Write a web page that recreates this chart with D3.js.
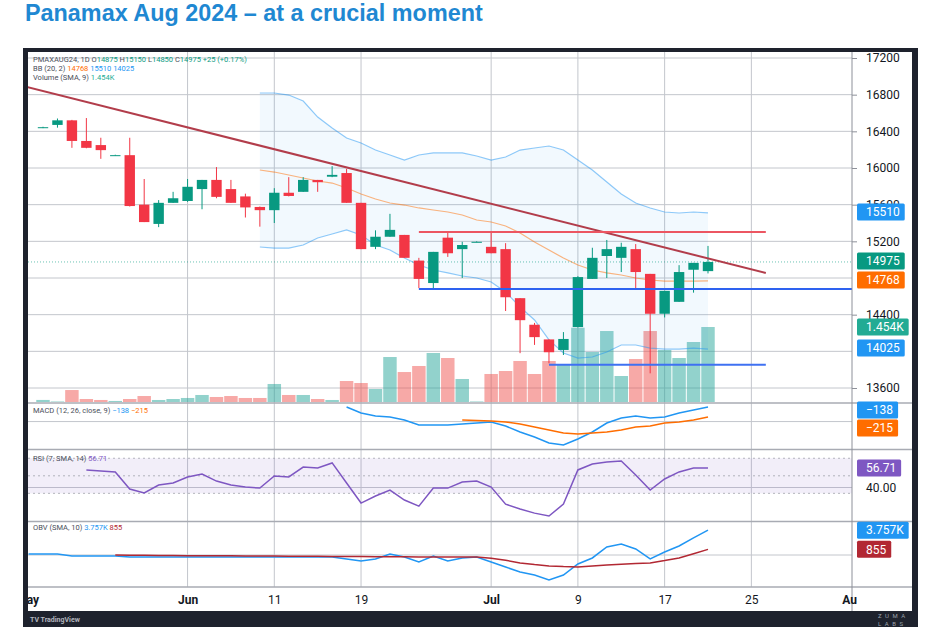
<!DOCTYPE html>
<html>
  <head>
    <meta charset="utf-8">
    <title>Panamax Aug 2024</title>
    <style>
      body { margin: 0; background: #fff; }
      svg { display: block; font-family: Roboto, "Liberation Sans", sans-serif; }
    </style>
  </head>
  <body>
    <script src="https://cdn.jsdelivr.net/npm/d3@7"></script>
    <script>
      // ---- data (bar index 0 = first candle) ----
      var opens  = [16440, 16470, 16520, 16295, 16250, 16140, 16140, 15600, 15390, 15620,
                    15640, 15770, 15870, 15770, 15690, 15575, 15540, 15730, 15740, 15870,
                    15905, 15945, 15620, 15140, 15250, 15270, 14990, 14745, 15240, 15115,
                    15195, 15140, 15115, 14580, 14290, 14130, 14015, 14265, 14790, 15040,
                    15020, 15115, 14845, 14410, 14540, 14890, 14875];
      var highs  = [16450, 16540, 16525, 16545, 16330, 16145, 16330, 15880, 15650, 15740,
                    15880, 15870, 16010, 15870, 15720, 15580, 15780, 15900, 15900, 15870,
                    16020, 15990, 15620, 15320, 15500, 15270, 15020, 15085, 15310, 15195,
                    15200, 15300, 15180, 14580, 14310, 14130, 14210, 14820, 15130, 15215,
                    15185, 15170, 14845, 14660, 14940, 14965, 15150];
      var lows   = [16435, 16440, 16220, 16215, 16100, 16135, 15580, 15410, 15355, 15620,
                    15630, 15550, 15670, 15620, 15460, 15360, 15400, 15690, 15740, 15740,
                    15900, 15620, 15115, 15115, 15250, 15020, 14690, 14690, 15030, 14800,
                    15190, 15070, 14440, 13980, 14070, 13870, 13960, 14260, 14790, 14800,
                    14865, 14690, 13760, 14370, 14540, 14640, 14850];
      var closes = [16445, 16520, 16295, 16220, 16195, 16140, 15585, 15410, 15620, 15670,
                    15795, 15870, 15685, 15620, 15570, 15540, 15730, 15695, 15870, 15845,
                    15925, 15620, 15115, 15250, 15325, 15020, 14790, 15085, 15070, 15160,
                    15195, 15070, 14590, 14340, 14155, 13990, 14135, 14810, 15020, 15115,
                    15140, 14865, 14410, 14660, 14865, 14965, 14975];
      var volumes = [40, 10, 232, 58, 39, 20, 58, 116, 39, 58,
                     78, 136, 97, 116, 78, 78, 349, 136, 136, 58,
                     39, 407, 368, 252, 872, 581, 698, 950, 853, 446,
                     10, 543, 601, 795, 543, 795, 720, 1440, 969, 1376,
                     504, 833, 1376, 1008, 853, 1163, 1454];

      var bbStart = 15;
      var bbUpper = [16818, 16818, 16796, 16731, 16556, 16436, 16327, 16273, 16196, 16142,
                     16087, 16142, 16164, 16164, 16164, 16131, 16087, 16120, 16196, 16218,
                     16240, 16196, 16087, 15978, 15847, 15716, 15618, 15564, 15520, 15509,
                     15520, 15510];
      var bbBasis = [15978, 15956, 15924, 15891, 15858, 15836, 15782, 15716, 15662, 15618,
                     15596, 15564, 15542, 15520, 15487, 15433, 15411, 15367, 15291, 15193,
                     15105, 15018, 14942, 14887, 14855, 14833, 14800, 14778, 14767, 14767,
                     14767, 14768];
      var bbLower = [15138, 15127, 15127, 15160, 15236, 15280, 15324, 15269, 15160, 15105,
                     15018, 14942, 14887, 14855, 14822, 14800, 14756, 14647, 14484, 14342,
                     14124, 13982, 13927, 13938, 13993, 14069, 14069, 14036, 14025, 14025,
                     14036, 14025];

      var macdStart = 21;
      var macdLine = [-138, -184, -207, -215, -238, -276, -276, -276, -269, -261,
                      -253, -284, -330, -369, -415, -430, -384, -330, -261, -223,
                      -207, -223, -215, -184, -161, -138];
      var signalStart = 29;
      var signalLine = [-238, -242, -246, -253, -269, -292, -315, -338, -346, -338,
                        -330, -315, -292, -284, -261, -253, -238, -215];

      var rsiStart = 3;
      var rsiLine = [55.0, 54.1, 53.3, 38.7, 35.3, 42.1, 43.8, 49.0, 51.5, 45.5,
                     42.1, 40.4, 39.5, 49.8, 49.0, 57.5, 56.7, 61.0, 43.8, 26.7,
                     32.7, 37.8, 29.3, 24.1, 39.5, 39.5, 44.7, 45.5, 40.4, 25.8,
                     21.6, 18.1, 15.6, 25.8, 55.0, 60.1, 61.8, 62.7, 50.7, 37.8,
                     47.3, 53.3, 56.7, 56.71];
      var rsiLevels = [65, 50, 35];

      var obvStart = -1;
      var obvLine = [150, 150, 150, -150, -150, -150, -150, -300, -300, -300,
                     -300, -300, -300, -300, -300, -300, -300, -300, -300, -300,
                     -300, -300, -600, -910, -600, 150, -300, -1060, -150, -910,
                     -450, -300, -1060, -1820, -2580, -3030, -3790, -3030, -1360, -450,
                     1210, 1670, 910, -600, 450, 1360, 2580, 3757];
      var obvSmaStart = 5;
      var obvSma = [0, -20, -40, -60, -80, -100, -110, -120, -130, -150,
                    -160, -170, -180, -190, -200, -210, -220, -230, -250, -260,
                    -280, -290, -300, -300, -300, -300, -500, -800, -1200, -1450,
                    -1650, -1750, -1800, -1650, -1500, -1400, -1300, -1200, -850, -450,
                    200, 855];

      // drawn annotations: [bar index, price]
      var trendLine   = [[-1.1, 16884], [50, 14855]];
      var resistLine  = [[26, 15302], [50, 15302]];
      var supportLine = [[26, 14680], [56.5, 14680]];
      var lowLine     = [[35, 13855], [50, 13855]];

      var priceTicks = [17200, 16800, 16400, 16000, 15600, 15200, 14800, 14400, 14000, 13600];
      var timeTicks  = [-1.1, 10, 16, 22, 31, 37, 43, 49, 56];
      var timeLabels = ['May', 'Jun', '11', '19', 'Jul', '9', '17', '25', 'Aug'];

      // ---- layout ----
      var width = 940, height = 627;
      var plotL = 28, plotR = 852, axisR = 912;
      var mainTop = 52, mainBot = 403, macdBot = 449.5, rsiBot = 521.5, obvBot = 587, frameBot = 611;

      var upColor = '#089981', downColor = '#f23645';

      var svg = d3.select('body').append('svg')
        .attr('width', width)
        .attr('height', height);

      // title
      var title = svg.append('text')
        .attr('x', 25)
        .attr('y', 21)
        .attr('fill', '#1f88d2')
        .attr('font-family', '"Liberation Sans", Arial, sans-serif')
        .attr('font-weight', 'bold')
        .attr('font-size', 22)
        .text('Panamax Aug 2024 \u2013 at a crucial moment');
      var tl = title.node().getComputedTextLength();
      title.attr('font-size', 22 * 458 / tl);

      // dark frame
      svg.append('rect').attr('x', 23).attr('y', 48).attr('width', 895).attr('height', 579).attr('fill', '#1e222d');
      svg.append('rect').attr('x', plotL).attr('y', mainTop).attr('width', axisR - plotL).attr('height', frameBot - mainTop).attr('fill', '#fff');

      var defs = svg.append('defs');
      function clip(id, x0, x1, y0, y1) {
        defs.append('clipPath').attr('id', id).append('rect')
          .attr('x', x0).attr('y', y0).attr('width', x1 - x0).attr('height', y1 - y0);
        return 'url(#' + id + ')';
      }

      var x = d3.scaleLinear().domain([0, 46]).range([43, 708]);
      var step = x(1) - x(0);
      var yPrice = d3.scaleLinear().domain([17200, 13600]).range([58, 388]);
      var yVol = d3.scaleLinear().domain([0, 1454]).range([mainBot - 1, 327]);
      var yMacd = d3.scaleLinear().domain([-138, -430]).range([407, 445]);
      var yRsi = d3.scaleLinear().domain([50, 40]).range([475.8, 487.5]);
      var yObv = d3.scaleLinear().domain([0, 3757]).range([555, 530.2]);

      var gridColor = '#c3c6cc';

      // vertical grid
      svg.append('g').selectAll('line').data(timeTicks.slice(1, -1)).enter().append('line')
        .attr('x1', function(d) { return x(d); }).attr('x2', function(d) { return x(d); })
        .attr('y1', mainTop).attr('y2', obvBot)
        .attr('stroke', gridColor);

      // horizontal grid
      function hgrid(vals, scale) {
        svg.append('g').selectAll('line').data(vals).enter().append('line')
          .attr('x1', plotL).attr('x2', plotR)
          .attr('y1', function(d) { return scale(d); }).attr('y2', function(d) { return scale(d); })
          .attr('stroke', gridColor);
      }
      hgrid(priceTicks, yPrice);
      hgrid([-250], yMacd);
      hgrid([40], yRsi);
      hgrid([0], yObv);

      // ---- main pane ----
      var main = svg.append('g').attr('clip-path', clip('clipMain', plotL, plotR, mainTop, mainBot));

      // volume
      main.selectAll('.vol').data(volumes).enter().append('rect')
        .attr('class', 'vol')
        .attr('x', function(d, i) { return x(i) - step / 2 + 0.5; })
        .attr('width', step - 1)
        .attr('y', function(d) { return yVol(d); })
        .attr('height', function(d) { return yVol(0) - yVol(d); })
        .attr('fill', function(d, i) { return closes[i] >= opens[i] ? 'rgba(38,166,154,0.5)' : 'rgba(239,83,80,0.5)'; });

      // bollinger bands
      var bbArea = d3.area()
        .x(function(d, i) { return x(bbStart + i); })
        .y0(function(d, i) { return yPrice(bbLower[i]); })
        .y1(function(d) { return yPrice(d); });
      main.append('path').datum(bbUpper).attr('d', bbArea).attr('fill', 'rgba(33,150,243,0.06)');
      function lineFrom(start, scale) {
        return d3.line().x(function(d, i) { return x(start + i); }).y(function(d) { return scale(d); });
      }
      main.append('path').datum(bbUpper).attr('d', lineFrom(bbStart, yPrice))
        .attr('fill', 'none').attr('stroke', '#2196f3').attr('stroke-opacity', 0.5).attr('stroke-width', 1.2);
      main.append('path').datum(bbLower).attr('d', lineFrom(bbStart, yPrice))
        .attr('fill', 'none').attr('stroke', '#2196f3').attr('stroke-opacity', 0.5).attr('stroke-width', 1.2);
      main.append('path').datum(bbBasis).attr('d', lineFrom(bbStart, yPrice))
        .attr('fill', 'none').attr('stroke', '#ff6d00').attr('stroke-opacity', 0.5).attr('stroke-width', 1.2);

      // last price line
      main.append('line')
        .attr('x1', plotL).attr('x2', plotR)
        .attr('y1', yPrice(closes[closes.length - 1])).attr('y2', yPrice(closes[closes.length - 1]))
        .attr('stroke', upColor).attr('stroke-opacity', 0.6).attr('stroke-dasharray', '1,2');

      // candles
      var bw = step * 0.72;
      var candle = main.selectAll('.candle').data(closes).enter().append('g').attr('class', 'candle');
      candle.append('line')
        .attr('x1', function(d, i) { return x(i); }).attr('x2', function(d, i) { return x(i); })
        .attr('y1', function(d, i) { return yPrice(highs[i]); })
        .attr('y2', function(d, i) { return yPrice(lows[i]); })
        .attr('stroke', function(d, i) { return d >= opens[i] ? upColor : downColor; })
        .attr('stroke-width', 1);
      candle.append('rect')
        .attr('x', function(d, i) { return x(i) - bw / 2; })
        .attr('width', bw)
        .attr('y', function(d, i) { return yPrice(Math.max(d, opens[i])); })
        .attr('height', function(d, i) { return Math.max(1, Math.abs(yPrice(d) - yPrice(opens[i]))); })
        .attr('fill', function(d, i) { return d >= opens[i] ? upColor : downColor; });

      // annotations
      function seg(pts, color, w) {
        main.append('line')
          .attr('x1', x(pts[0][0])).attr('y1', yPrice(pts[0][1]))
          .attr('x2', x(pts[1][0])).attr('y2', yPrice(pts[1][1]))
          .attr('stroke', color).attr('stroke-width', w);
      }
      seg(trendLine, '#b23d4b', 2);
      seg(resistLine, '#ec5662', 2);
      seg(supportLine, '#2e62f0', 2);
      seg(lowLine, '#3f71f2', 2);

      // ---- MACD ----
      var macdG = svg.append('g').attr('clip-path', clip('clipMacd', plotL, plotR, mainBot, macdBot));
      macdG.append('path').datum(macdLine).attr('d', lineFrom(macdStart, yMacd))
        .attr('fill', 'none').attr('stroke', '#2196f3').attr('stroke-width', 1.5);
      macdG.append('path').datum(signalLine).attr('d', lineFrom(signalStart, yMacd))
        .attr('fill', 'none').attr('stroke', '#ff6d00').attr('stroke-width', 1.5);

      // ---- RSI ----
      var rsiG = svg.append('g').attr('clip-path', clip('clipRsi', plotL, plotR, macdBot, rsiBot));
      rsiG.append('rect')
        .attr('x', plotL).attr('width', plotR - plotL)
        .attr('y', yRsi(rsiLevels[0])).attr('height', yRsi(rsiLevels[2]) - yRsi(rsiLevels[0]))
        .attr('fill', 'rgba(126,87,194,0.1)');
      rsiG.selectAll('.lvl').data(rsiLevels).enter().append('line')
        .attr('x1', plotL).attr('x2', plotR)
        .attr('y1', function(d) { return yRsi(d); }).attr('y2', function(d) { return yRsi(d); })
        .attr('stroke', '#9598a1').attr('stroke-opacity', 0.7).attr('stroke-dasharray', '2,3');
      rsiG.append('path').datum(rsiLine).attr('d', lineFrom(rsiStart, yRsi))
        .attr('fill', 'none').attr('stroke', '#7e57c2').attr('stroke-width', 1.5);

      // ---- OBV ----
      var obvG = svg.append('g').attr('clip-path', clip('clipObv', plotL, plotR, rsiBot, obvBot));
      obvG.append('path').datum(obvLine).attr('d', lineFrom(obvStart, yObv))
        .attr('fill', 'none').attr('stroke', '#2196f3').attr('stroke-width', 1.5);
      obvG.append('path').datum(obvSma).attr('d', lineFrom(obvSmaStart, yObv))
        .attr('fill', 'none').attr('stroke', '#b22833').attr('stroke-width', 1.5);

      // ---- pane separators and price axis line ----
      [mainBot, macdBot, rsiBot, obvBot].forEach(function(yv) {
        svg.append('line').attr('x1', plotL).attr('x2', axisR).attr('y1', yv).attr('y2', yv)
          .attr('stroke', '#a8abb3').attr('stroke-width', 1.5);
      });
      svg.append('line').attr('x1', plotR).attr('x2', plotR).attr('y1', mainTop).attr('y2', frameBot)
        .attr('stroke', '#8d9099').attr('stroke-width', 1);

      // value boxes on the right (positions first, so covered tick labels can be skipped)
      var last = closes.length - 1;
      var mainBoxes = [
        { y: yPrice(bbUpper[bbUpper.length - 1]) - 1, text: '15510', color: '#2196f3' },
        { y: yPrice(closes[last]) - 1, text: '14975', color: upColor },
        { y: yPrice(bbBasis[bbBasis.length - 1]) - 1, text: '14768', color: '#ff6d00' },
        { y: yVol(volumes[last]), text: '1.454K', color: '#22ab94' },
        { y: yPrice(bbLower[bbLower.length - 1]) - 1, text: '14025', color: '#2196f3' }
      ];

      // price axis
      var shownTicks = priceTicks.filter(function(p) {
        return !mainBoxes.some(function(b) { return Math.abs(b.y - yPrice(p)) < 6; });
      });
      var yAxis = d3.axisRight(yPrice).tickValues(shownTicks).tickSize(5).tickPadding(9)
        .tickFormat(function(d) { return d; });
      var yAxisG = svg.append('g').attr('transform', 'translate(' + plotR + ',0)').call(yAxis);
      yAxisG.select('.domain').remove();
      yAxisG.selectAll('line').attr('stroke', '#8d9099');
      yAxisG.selectAll('text').attr('font-size', 12).attr('fill', '#131722')
        .attr('font-family', 'Roboto, sans-serif');

      svg.append('text').attr('x', 866).attr('y', yRsi(40)).attr('dy', '0.35em')
        .attr('font-size', 12).attr('fill', '#131722').text('40.00');

      function boxes(list, paneTop) {
        list.sort(function(a, b) { return a.y - b.y; });
        list.forEach(function(d, k) {
          if (k === 0) d.y = Math.max(d.y, paneTop + 7);
          else d.y = Math.max(d.y, list[k - 1].y + 18);
          var t = svg.append('text').attr('x', 866).attr('y', d.y).attr('dy', '0.35em')
            .attr('font-size', 12).attr('fill', '#fff').text(d.text);
          var w = t.node().getComputedTextLength();
          svg.insert('rect', function() { return t.node(); })
            .attr('x', 857).attr('y', d.y - 8.5).attr('width', w + 14).attr('height', 17)
            .attr('rx', 1.5).attr('fill', d.color);
        });
      }
      boxes(mainBoxes, mainTop);
      boxes([
        { y: yMacd(macdLine[macdLine.length - 1]), text: '\u2212138', color: '#2196f3' },
        { y: yMacd(signalLine[signalLine.length - 1]), text: '\u2212215', color: '#ff6d00' }
      ], mainBot);
      boxes([{ y: yRsi(rsiLine[rsiLine.length - 1]), text: '56.71', color: '#7e57c2' }], macdBot);
      boxes([
        { y: yObv(obvLine[obvLine.length - 1]), text: '3.757K', color: '#2196f3' },
        { y: yObv(obvSma[obvSma.length - 1]), text: '855', color: '#b22833' }
      ], rsiBot);

      // time axis
      var xAxis = d3.axisBottom(x).tickValues(timeTicks).tickSize(0).tickPadding(8)
        .tickFormat(function(d, i) { return timeLabels[i]; });
      var xAxisG = svg.append('g').attr('clip-path', clip('clipTime', plotL, plotR + 5, obvBot, frameBot));
      var xInner = xAxisG.append('g').attr('transform', 'translate(0,' + obvBot + ')').call(xAxis);
      xInner.select('.domain').remove();
      xInner.selectAll('text').attr('font-size', 12).attr('fill', '#131722')
        .attr('font-family', 'Roboto, sans-serif')
        .attr('font-weight', function(d, i) { return /^[A-Z]/.test(timeLabels[i]) ? 'bold' : 'normal'; });

      // legends
      function legend(yv, parts) {
        var t = svg.append('text').attr('x', 33).attr('y', yv).attr('font-size', 7.5).attr('fill', '#4a4e59');
        parts.forEach(function(p) {
          t.append('tspan').attr('fill', p[1] || '#4a4e59').text(p[0]);
        });
      }
      legend(62, [['PMAXAUG24, 1D  O'], ['14875', upColor], ['  H'], ['15150', upColor], ['  L'], ['14850', upColor],
                  ['  C'], ['14975', upColor], ['  +25 (+0.17%)', upColor]]);
      legend(71, [['BB (20, 2)  '], ['14768', '#ff6d00'], ['  '], ['15510', '#2196f3'], ['  '], ['14025', '#2196f3']]);
      legend(80, [['Volume (SMA, 9)  '], ['1.454K', '#22ab94']]);
      legend(412.5, [['MACD (12, 26, close, 9)  '], ['\u2212138', '#2196f3'], ['  '], ['\u2212215', '#ff6d00']]);
      legend(460.5, [['RSI (7, SMA, 14)  '], ['56.71', '#7e57c2']]);
      legend(529.5, [['OBV (SMA, 10)  '], ['3.757K', '#2196f3'], ['  '], ['855', '#b22833']]);

      // footer marks
      svg.append('text').attr('x', 30).attr('y', 622).attr('font-size', 7).attr('fill', '#b2b5be')
        .attr('font-weight', 'bold').text('TV TradingView');
      svg.append('text').attr('x', 878).attr('y', 618).attr('font-size', 6).attr('fill', '#9aa0aa')
        .attr('letter-spacing', 3.5).text('ZUMA');
      svg.append('text').attr('x', 878).attr('y', 625.5).attr('font-size', 6).attr('fill', '#9aa0aa')
        .attr('letter-spacing', 3.5).text('LABS');
    </script>
  </body>
</html>
